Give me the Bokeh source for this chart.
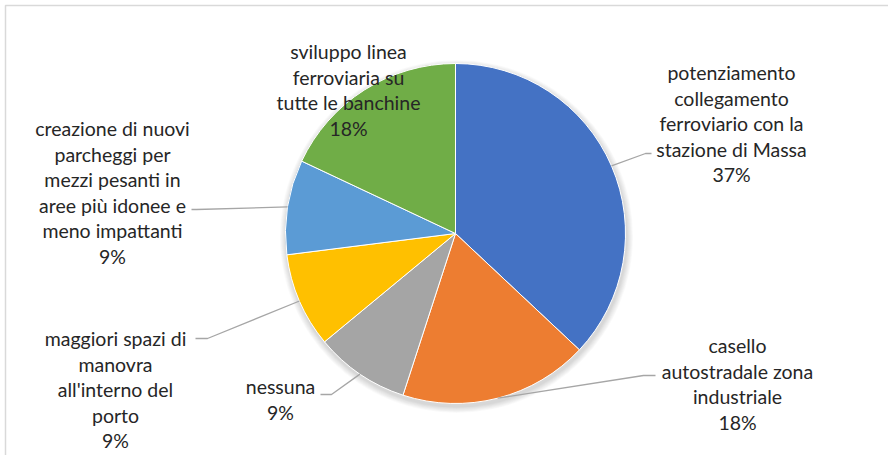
import math
from bokeh.plotting import figure
from bokeh.models import Range1d
from bokeh.core.properties import value
from bokeh.embed import file_html
from bokeh.resources import INLINE

# ---- data ----
categories = [
    "potenziamento collegamento ferroviario con la stazione di Massa",
    "casello autostradale zona industriale",
    "nessuna",
    "maggiori spazi di manovra all'interno del porto",
    "creazione di nuovi parcheggi per mezzi pesanti in aree più idonee e meno impattanti",
    "sviluppo linea ferroviaria su tutte le banchine",
]
shares = [37, 18, 9, 9, 9, 18]
label_lines = [
    ["potenziamento", "collegamento", "ferroviario con la", "stazione di Massa", "37%"],
    ["casello", "autostradale zona", "industriale", "18%"],
    ["nessuna", "9%"],
    ["maggiori spazi di", "manovra", "all'interno del", "porto", "9%"],
    ["creazione di nuovi", "parcheggi per", "mezzi pesanti in", "aree più idonee e", "meno impattanti", "9%"],
    ["sviluppo linea", "ferroviaria su", "tutte le banchine", "18%"],
]
colors = ["#4472C4", "#ED7D31", "#A5A5A5", "#FFC000", "#5B9BD5", "#70AD47"]

# ---- layout (pixels, y measured from top) ----
W, H = 888, 455
CX, CY, R = 455, 233, 170
label_pos = [(731, 72), (737, 345), (280, 386), (115, 338), (112, 128), (348, 51)]
LINE_H = 25.5
leader_pts = [
    [(645, 153), (651, 153)],
    [(643, 375), (655, 375)],
    [(331, 394), (320, 394)],
    [(207, 338), (195, 338)],
    [(196, 209), (191, 209)],
    None,
]

def Y(py):
    return H - py

p = figure(width=W, height=H, x_range=Range1d(0, W), y_range=Range1d(0, H),
           output_backend="svg", toolbar_location=None, min_border=0)
p.axis.visible = False
p.grid.visible = False
p.outline_line_color = None
p.background_fill_color = "white"
p.border_fill_color = "white"

# chart area border
p.line([5, 5, W + 10], [-10, Y(5), Y(5)], line_color="#D9D9D9", line_width=1.5)

# soft shadow
for i in range(8):
    p.circle(x=CX + 1, y=Y(CY + 3), radius=R + 1 + i * 0.8, radius_units="data",
             fill_color="black", fill_alpha=0.018, line_color=None)

# wedges
total = float(sum(shares))
starts, ends, mids = [], [], []
cum = 0.0
for s in shares:
    a0 = math.pi / 2 - 2 * math.pi * cum / total
    cum += s
    a1 = math.pi / 2 - 2 * math.pi * cum / total
    starts.append(a0)
    ends.append(a1)
    mids.append((a0 + a1) / 2)

p.wedge(x=[CX] * len(shares), y=[Y(CY)] * len(shares), radius=R,
        start_angle=starts, end_angle=ends, direction="clock",
        fill_color=colors, line_color="white", line_width=1)

# leader lines
for m, pts in zip(mids, leader_pts):
    if pts is None:
        continue
    sx = CX + R * math.cos(m)
    sy = Y(CY) + R * math.sin(m)
    xs = [sx] + [q[0] for q in pts]
    ys = [sy] + [Y(q[1]) for q in pts]
    p.line(xs, ys, line_color="#A6A6A6", line_width=1.3)

# labels
tx, ty, tt = [], [], []
for lines, (lx, ly) in zip(label_lines, label_pos):
    for i, t in enumerate(lines):
        tx.append(lx)
        ty.append(Y(ly + i * LINE_H))
        tt.append(t)
p.text(x=tx, y=ty, text=tt, text_align="center", text_baseline="middle",
       text_font=value("Lato"), text_font_size="19.5px", text_color="#262626")

open("out.html", "w").write(file_html(p, INLINE))
